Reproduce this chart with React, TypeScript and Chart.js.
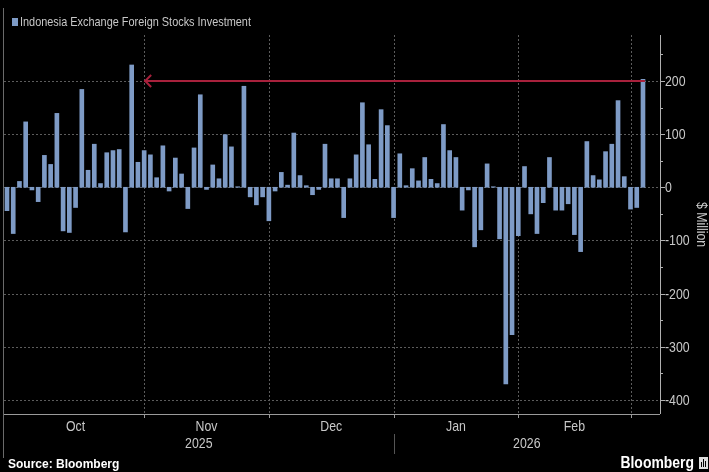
import { useEffect, useRef } from 'react';
import { Chart, registerables } from 'chart.js';

Chart.register(...registerables);

// Daily net foreign investment, $ million (trading days, Oct 2025 - Feb 2026)
const values: number[] = [
  -44, -87, 11, 123, -5, -27, 60, 43, 139, -82,
  -85, -38, 184, 32, 81, 7, 65, 69, 71, -84,
  230, 47, 69, 61, 18, 78, -7, 55, 25, -40,
  74, 174, -4, 42, 16, 99, 76, 1, 190, -18,
  -33, -18, -63, -7, 28, 4, 102, 22, 3, -14,
  -4, 81, 16, 16, -57, 16, 61, 159, 80, 15,
  146, 116, -57, 63, 3, 35, 12, 56, 15, 7,
  118, 69, 56, -43, -5, -112, -80, 44, 1, -97,
  -370, -277, -91, 39, -50, -87, -29, 56, -43, -43,
  -31, -89, -121, 86, 22, 14, 67, 81, 163, 20,
  -41, -38, 203,
];

const monthLabels = ['Oct', 'Nov', 'Dec', 'Jan', 'Feb'];
// bar index of each month boundary tick (first entry = start of Oct)
const monthEdges = [0, 22, 42, 62, 82, 100];
const yearLabels = ['2025', '2026'];
const yearEdgeIndex = 62;
const yTicks = [-400, -300, -200, -100, 0, 100, 200];
const yMinorTicks = [-350, -250, -150, -50, 50, 150, 250];
const seriesName = 'Indonesia Exchange Foreign Stocks Investment';
const yTitle = '$ Million';
const arrowFromIndex = 22;
const arrowValue = 200;

const BAR = '#7e9bc6';
const SANS = "'Liberation Sans',Arial,sans-serif";
const TXT = '#c8c8c8';
const NARROW_X = 0.82;

function narrowText(
  ctx: CanvasRenderingContext2D,
  text: string,
  x: number,
  y: number,
  align: CanvasTextAlign,
  font: string,
  color: string,
  rotate = 0,
) {
  ctx.save();
  ctx.translate(x, y);
  if (rotate) ctx.rotate(rotate);
  ctx.scale(NARROW_X, 1);
  ctx.font = font;
  ctx.fillStyle = color;
  ctx.textAlign = align;
  ctx.textBaseline = 'middle';
  ctx.fillText(text, 0, 0);
  ctx.restore();
}

const deco = {
  id: 'deco',
  beforeDatasetsDraw(chart: any) {
    const { ctx, chartArea: a, scales } = chart;
    const x = scales.x;
    const y = scales.y;
    ctx.save();
    ctx.strokeStyle = '#5c5c5c';
    ctx.lineWidth = 1;
    ctx.setLineDash([2, 2]);
    for (const t of yTicks) {
      const py = Math.round(y.getPixelForValue(t)) + 0.5;
      ctx.beginPath();
      ctx.moveTo(a.left, py);
      ctx.lineTo(a.right, py);
      ctx.stroke();
    }
    for (const e of monthEdges.slice(1)) {
      const px = Math.round(x.getPixelForValue(e)) + 0.5;
      ctx.beginPath();
      ctx.moveTo(px, a.top);
      ctx.lineTo(px, a.bottom);
      ctx.stroke();
    }
    ctx.restore();
  },
  afterDatasetsDraw(chart: any) {
    const { ctx, chartArea: a, scales } = chart;
    const x = scales.x;
    const y = scales.y;
    ctx.save();

    // red arrow
    const ay = y.getPixelForValue(arrowValue);
    const ax0 = x.getPixelForValue(arrowFromIndex);
    const ax1 = x.getPixelForValue(values.length - 1) + 2;
    ctx.strokeStyle = '#a8213c';
    ctx.lineWidth = 2;
    ctx.beginPath();
    ctx.moveTo(ax0, ay);
    ctx.lineTo(ax1, ay);
    ctx.stroke();
    ctx.beginPath();
    ctx.moveTo(ax0 + 7, ay - 6);
    ctx.lineTo(ax0 + 1, ay);
    ctx.lineTo(ax0 + 7, ay + 6);
    ctx.stroke();

    // axes lines
    ctx.lineWidth = 1;
    ctx.strokeStyle = '#9a9a9a';
    ctx.beginPath();
    ctx.moveTo(a.left, Math.round(a.bottom) + 0.5);
    ctx.lineTo(a.right, Math.round(a.bottom) + 0.5);
    ctx.stroke();
    ctx.strokeStyle = '#b0b0b0';
    ctx.beginPath();
    ctx.moveTo(Math.round(a.right) + 0.5, a.top);
    ctx.lineTo(Math.round(a.right) + 0.5, a.bottom);
    ctx.stroke();
    // left frame line
    ctx.strokeStyle = '#6a6a6a';
    ctx.beginPath();
    ctx.moveTo(3.5, 8);
    ctx.lineTo(3.5, 458);
    ctx.stroke();

    // y ticks + labels
    ctx.strokeStyle = '#b0b0b0';
    for (const t of yTicks) {
      const py = Math.round(y.getPixelForValue(t)) + 0.5;
      ctx.beginPath();
      ctx.moveTo(a.right, py);
      ctx.lineTo(a.right + 5, py);
      ctx.stroke();
      narrowText(ctx, String(t), a.right + 5, py, 'left', `15px ${SANS}`, TXT);
    }
    for (const t of yMinorTicks) {
      const py = Math.round(y.getPixelForValue(t)) + 0.5;
      ctx.beginPath();
      ctx.moveTo(a.right, py);
      ctx.lineTo(a.right + 3, py);
      ctx.stroke();
    }
    narrowText(ctx, yTitle, 701, (a.top + a.bottom) / 2, 'center', `15px ${SANS}`, TXT, Math.PI / 2);

    // x ticks and labels
    ctx.strokeStyle = '#9a9a9a';
    for (const e of monthEdges.slice(1)) {
      const px = Math.round(x.getPixelForValue(e)) + 0.5;
      ctx.beginPath();
      ctx.moveTo(px, a.bottom);
      ctx.lineTo(px, a.bottom + 4);
      ctx.stroke();
    }
    monthLabels.forEach((m, i) => {
      const p0 = x.getPixelForValue(monthEdges[i]);
      const p1 = x.getPixelForValue(monthEdges[i + 1]);
      narrowText(ctx, m, (p0 + p1) / 2, a.bottom + 13, 'center', `15px ${SANS}`, TXT);
    });
    const ye = x.getPixelForValue(yearEdgeIndex);
    narrowText(ctx, yearLabels[0], (a.left + ye) / 2, a.bottom + 30, 'center', `15px ${SANS}`, TXT);
    narrowText(ctx, yearLabels[1], (ye + a.right) / 2, a.bottom + 30, 'center', `15px ${SANS}`, TXT);
    ctx.strokeStyle = '#555';
    ctx.beginPath();
    ctx.moveTo(Math.round(ye) + 0.5, a.bottom + 20);
    ctx.lineTo(Math.round(ye) + 0.5, a.bottom + 40);
    ctx.stroke();

    // legend
    ctx.fillStyle = BAR;
    ctx.fillRect(12, 18, 6, 8);
    narrowText(ctx, seriesName, 20, 22.5, 'left', `13.3px ${SANS}`, TXT);

    // footer
    ctx.fillStyle = '#ffffff';
    ctx.font = `bold 12px ${SANS}`;
    ctx.textAlign = 'left';
    ctx.textBaseline = 'middle';
    ctx.fillText('Source: Bloomberg', 8, 465);
    narrowText(ctx, 'Bloomberg', 694, 463, 'right', `bold 17px ${SANS}`, '#ffffff');
    ctx.fillStyle = '#dddddd';
    ctx.fillRect(699, 457, 9, 12);
    ctx.fillStyle = '#000';
    ctx.fillRect(701, 462, 1, 5);
    ctx.fillRect(703, 459, 1, 8);
    ctx.fillRect(705, 461, 1, 6);

    ctx.restore();
  },
};

export default function App() {
  const ref = useRef<HTMLCanvasElement | null>(null);
  useEffect(() => {
    const canvas = ref.current;
    if (!canvas) return;
    const points = values.map((v, i) => ({ x: i, y: v }));
    const chart = new Chart(canvas, {
      type: 'bar',
      data: {
        datasets: [
          {
            label: seriesName,
            data: points as any,
            backgroundColor: BAR,
            borderWidth: 0,
            barThickness: 4,
          },
        ],
      },
      options: {
        animation: false,
        responsive: false,
        maintainAspectRatio: false,
        layout: { padding: { left: 4, top: 35, right: 0, bottom: 58 } },
        plugins: {
          legend: { display: false },
          tooltip: { enabled: false },
        },
        scales: {
          x: {
            type: 'linear',
            min: -0.48,
            max: 104.73,
            display: false,
            offset: false,
          },
          y: {
            position: 'right',
            min: -426.4,
            max: 286.4,
            afterBuildTicks: (s: any) => {
              s.ticks = yTicks.map((v) => ({ value: v }));
            },
            afterFit: (s: any) => {
              s.width = 49;
            },
            grid: { display: false, drawTicks: false },
            border: { display: false },
            ticks: { display: false },
          },
        },
      },
      plugins: [deco],
    });
    return () => chart.destroy();
  }, []);

  return (
    <div style={{ position: 'fixed', left: 0, top: 0, width: 709, height: 472, background: '#000' }}>
      <canvas ref={ref} width={709} height={472} style={{ display: 'block', width: 709, height: 472 }} />
    </div>
  );
}
